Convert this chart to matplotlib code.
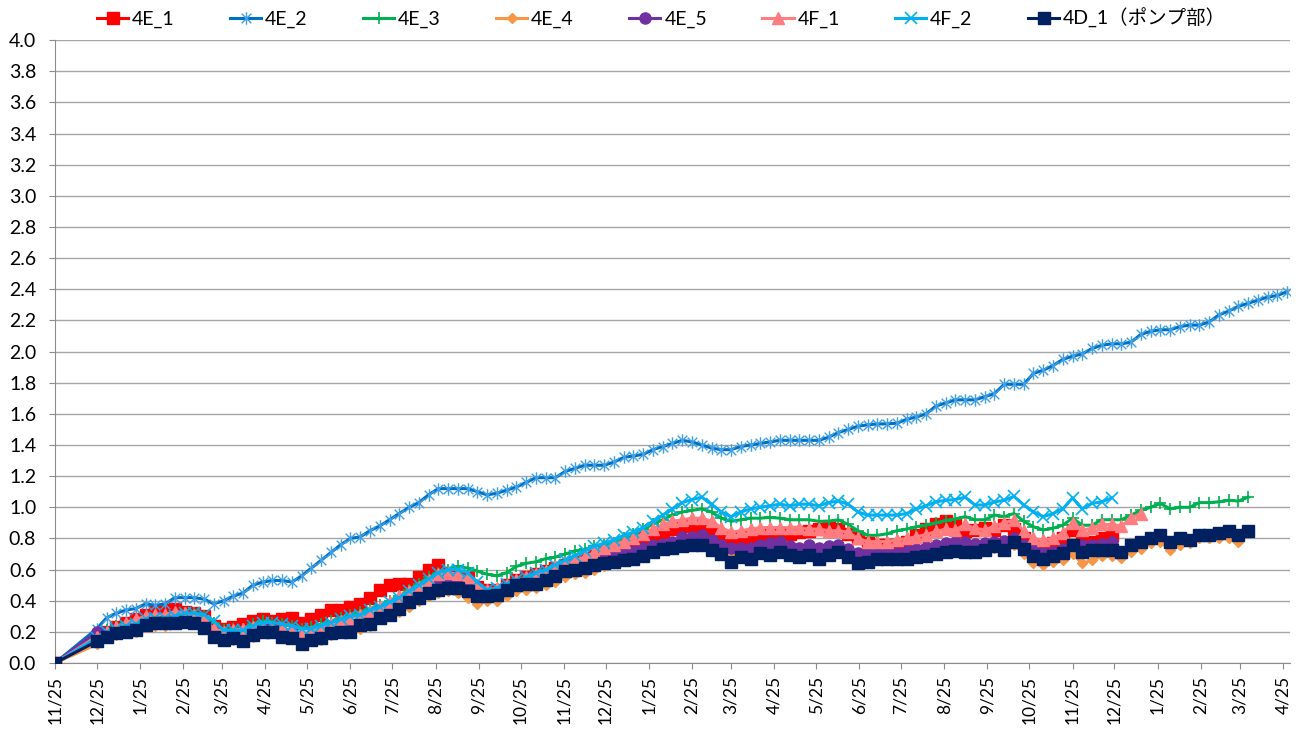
import matplotlib
matplotlib.use("Agg")
import matplotlib.pyplot as plt
from matplotlib.path import Path
import numpy as np
import pandas as pd

plt.rcParams['font.family'] = ['Lato', 'Noto Sans CJK JP', 'DejaVu Sans']

# x positions: start point, then weekly readings
start_date = "2012-11-25"
weekly_start = "2012-12-25"
n_weeks = 123

labels = ["4E_1", "4E_2", "4E_3", "4E_4", "4E_5", "4F_1", "4F_2", "4D_1（ポンプ部）"]

e1 = [0.0,
      0.17, 0.20, 0.23, 0.26, 0.28, 0.31, 0.33, 0.34, 0.35, 0.33,
      0.32, 0.30, 0.24, 0.22, 0.23, 0.25, 0.27, 0.28, 0.27, 0.28,
      0.29, 0.26, 0.28, 0.31, 0.34, 0.34, 0.36, 0.38, 0.42, 0.47,
      0.50, 0.51, 0.51, 0.55, 0.60, 0.63, 0.58, 0.56, 0.55, 0.49,
      0.47, 0.47, 0.50, 0.53, 0.55, 0.57, 0.59, 0.61, 0.63, 0.65,
      0.67, 0.69, 0.71, 0.73, 0.76, 0.78, 0.80, 0.82, 0.84, 0.86,
      0.88, 0.885, 0.88, 0.85, 0.81, 0.79, 0.80, 0.81, 0.82, 0.83,
      0.83, 0.83, 0.84, 0.85, 0.86, 0.88, 0.86, 0.83, 0.80, 0.77,
      0.76, 0.76, 0.76, 0.78, 0.82, 0.86, 0.89, 0.91, 0.89, 0.85,
      0.855, 0.865, 0.855, 0.885, 0.86, 0.80, 0.76, 0.745, 0.77, 0.80,
      0.855, 0.78, 0.78, 0.80, 0.82]

e2 = [0.0,
      0.22, 0.29, 0.32, 0.34, 0.35, 0.38, 0.37, 0.38, 0.42, 0.42,
      0.42, 0.41, 0.38, 0.40, 0.43, 0.45, 0.50, 0.52, 0.53, 0.53,
      0.52, 0.56, 0.61, 0.66, 0.71, 0.76, 0.80, 0.81, 0.85, 0.88,
      0.92, 0.96, 1.00, 1.03, 1.08, 1.12, 1.12, 1.12, 1.12, 1.10,
      1.08, 1.09, 1.11, 1.13, 1.16, 1.19, 1.19, 1.19, 1.23, 1.25,
      1.27, 1.27, 1.27, 1.29, 1.32, 1.33, 1.34, 1.37, 1.39, 1.41,
      1.43, 1.42, 1.40, 1.38, 1.37, 1.37, 1.39, 1.40, 1.41, 1.42,
      1.43, 1.43, 1.43, 1.43, 1.43, 1.45, 1.48, 1.50, 1.52, 1.53,
      1.535, 1.536, 1.54, 1.565, 1.58, 1.60, 1.65, 1.67, 1.69, 1.69,
      1.69, 1.71, 1.73, 1.79, 1.79, 1.79, 1.86, 1.88, 1.91, 1.95,
      1.97, 1.985, 2.02, 2.04, 2.05, 2.05, 2.06, 2.11, 2.13, 2.14,
      2.14, 2.16, 2.17, 2.17, 2.19, 2.235, 2.26, 2.29, 2.31, 2.33,
      2.35, 2.36, 2.385]

e3 = [0.0,
      0.18, 0.21, 0.24, 0.26, 0.27, 0.29, 0.30, 0.30, 0.31, 0.32,
      0.32, 0.30, 0.26, 0.21, 0.22, 0.22, 0.25, 0.27, 0.26, 0.25,
      0.24, 0.22, 0.23, 0.25, 0.27, 0.29, 0.31, 0.33, 0.35, 0.37,
      0.40, 0.43, 0.47, 0.51, 0.55, 0.58, 0.60, 0.62, 0.61, 0.59,
      0.57, 0.56, 0.58, 0.62, 0.64, 0.65, 0.67, 0.68, 0.70, 0.72,
      0.73, 0.75, 0.76, 0.77, 0.80, 0.83, 0.86, 0.89, 0.92, 0.95,
      0.97, 0.98, 0.99, 0.97, 0.93, 0.91, 0.92, 0.93, 0.93, 0.935,
      0.93, 0.92, 0.92, 0.92, 0.91, 0.91, 0.92, 0.89, 0.85, 0.82,
      0.82, 0.83, 0.85, 0.86, 0.875, 0.885, 0.90, 0.915, 0.925, 0.94,
      0.92, 0.92, 0.95, 0.94, 0.96, 0.91, 0.875, 0.855, 0.865, 0.885,
      0.93, 0.885, 0.885, 0.92, 0.92, 0.92, 0.95, 0.98, 1.00, 1.025,
      0.99, 1.00, 1.00, 1.03, 1.03, 1.035, 1.045, 1.04, 1.065]

e4 = [0.0,
      0.12, 0.16, 0.18, 0.19, 0.20, 0.23, 0.24, 0.24, 0.25, 0.26,
      0.25, 0.22, 0.17, 0.15, 0.15, 0.14, 0.17, 0.19, 0.19, 0.17,
      0.16, 0.12, 0.14, 0.15, 0.18, 0.19, 0.19, 0.22, 0.24, 0.28,
      0.30, 0.33, 0.36, 0.40, 0.43, 0.45, 0.46, 0.45, 0.42, 0.38,
      0.40, 0.40, 0.43, 0.46, 0.47, 0.48, 0.50, 0.52, 0.55, 0.57,
      0.58, 0.60, 0.62, 0.64, 0.66, 0.68, 0.69, 0.71, 0.73, 0.75,
      0.76, 0.77, 0.78, 0.73, 0.70, 0.69, 0.68, 0.68, 0.71, 0.70,
      0.72, 0.70, 0.69, 0.70, 0.67, 0.70, 0.72, 0.68, 0.65, 0.66,
      0.67, 0.67, 0.67, 0.67, 0.68, 0.69, 0.70, 0.71, 0.72, 0.715,
      0.715, 0.72, 0.74, 0.72, 0.76, 0.70, 0.64, 0.63, 0.65, 0.66,
      0.70, 0.64, 0.66, 0.685, 0.685, 0.675, 0.715, 0.735, 0.77, 0.78,
      0.725, 0.76, 0.77, 0.80, 0.80, 0.80, 0.80, 0.78]

e5 = [0.0,
      0.20, 0.20, 0.22, 0.23, 0.24, 0.27, 0.28, 0.28, 0.29, 0.29,
      0.28, 0.26, 0.20, 0.18, 0.18, 0.17, 0.20, 0.22, 0.22, 0.20,
      0.20, 0.17, 0.18, 0.19, 0.22, 0.23, 0.24, 0.26, 0.28, 0.31,
      0.34, 0.37, 0.41, 0.44, 0.47, 0.50, 0.52, 0.52, 0.50, 0.46,
      0.44, 0.45, 0.48, 0.50, 0.52, 0.54, 0.56, 0.58, 0.60, 0.62,
      0.63, 0.65, 0.67, 0.69, 0.70, 0.72, 0.74, 0.755, 0.765, 0.78,
      0.81, 0.81, 0.82, 0.79, 0.755, 0.74, 0.74, 0.74, 0.755, 0.77,
      0.78, 0.75, 0.74, 0.755, 0.74, 0.75, 0.755, 0.73, 0.705, 0.705,
      0.705, 0.71, 0.705, 0.72, 0.735, 0.745, 0.76, 0.77, 0.775, 0.775,
      0.765, 0.77, 0.775, 0.785, 0.80, 0.76, 0.725, 0.705, 0.715, 0.735,
      0.76, 0.755, 0.76, 0.765, 0.775]

f1 = [0.0,
      0.17, 0.20, 0.23, 0.26, 0.28, 0.30, 0.31, 0.31, 0.33, 0.32,
      0.31, 0.28, 0.22, 0.20, 0.21, 0.22, 0.23, 0.23, 0.22, 0.22,
      0.21, 0.18, 0.20, 0.22, 0.25, 0.27, 0.29, 0.31, 0.33, 0.36,
      0.39, 0.43, 0.46, 0.49, 0.53, 0.57, 0.58, 0.57, 0.55, 0.50,
      0.47, 0.48, 0.50, 0.53, 0.55, 0.57, 0.59, 0.62, 0.64, 0.66,
      0.68, 0.71, 0.74, 0.76, 0.78, 0.80, 0.83, 0.86, 0.89, 0.91,
      0.92, 0.93, 0.93, 0.91, 0.87, 0.84, 0.85, 0.86, 0.87, 0.87,
      0.87, 0.87, 0.87, 0.86, 0.86, 0.85, 0.85, 0.84, 0.80, 0.78,
      0.78, 0.78, 0.79, 0.80, 0.81, 0.825, 0.845, 0.86, 0.855, 0.89,
      0.865, 0.855, 0.88, 0.90, 0.92, 0.845, 0.80, 0.79, 0.80, 0.835,
      0.90, 0.855, 0.865, 0.89, 0.89, 0.88, 0.93, 0.96]

f2 = [0.0,
      0.16, 0.20, 0.22, 0.24, 0.25, 0.28, 0.29, 0.29, 0.30, 0.32,
      0.32, 0.31, 0.27, 0.21, 0.21, 0.21, 0.24, 0.26, 0.26, 0.25,
      0.24, 0.22, 0.22, 0.24, 0.26, 0.28, 0.30, 0.31, 0.34, 0.36,
      0.39, 0.42, 0.46, 0.50, 0.54, 0.58, 0.60, 0.60, 0.58, 0.52,
      0.47, 0.48, 0.51, 0.53, 0.55, 0.58, 0.60, 0.63, 0.66, 0.69,
      0.72, 0.75, 0.77, 0.79, 0.82, 0.84, 0.87, 0.91, 0.95, 0.99,
      1.03, 1.05, 1.065, 1.02, 0.97, 0.94, 0.97, 0.99, 1.00, 1.01,
      1.02, 1.01, 1.02, 1.02, 1.01, 1.03, 1.04, 1.02, 0.97, 0.95,
      0.95, 0.95, 0.95, 0.96, 0.99, 1.01, 1.035, 1.045, 1.05, 1.065,
      1.015, 1.015, 1.035, 1.045, 1.07, 1.015, 0.97, 0.94, 0.96, 0.99,
      1.06, 0.99, 1.025, 1.035, 1.06]

d1 = [0.0,
      0.14, 0.17, 0.19, 0.20, 0.21, 0.245, 0.255, 0.255, 0.255, 0.265,
      0.255, 0.225, 0.17, 0.15, 0.16, 0.14, 0.18, 0.20, 0.20, 0.17,
      0.16, 0.12, 0.15, 0.16, 0.19, 0.20, 0.20, 0.245, 0.25, 0.29,
      0.31, 0.35, 0.39, 0.42, 0.45, 0.47, 0.48, 0.48, 0.46, 0.43,
      0.43, 0.44, 0.47, 0.50, 0.51, 0.51, 0.53, 0.56, 0.59, 0.60,
      0.61, 0.63, 0.64, 0.65, 0.66, 0.67, 0.69, 0.71, 0.73, 0.74,
      0.75, 0.76, 0.76, 0.725, 0.70, 0.65, 0.68, 0.67, 0.705, 0.695,
      0.715, 0.695, 0.68, 0.695, 0.665, 0.695, 0.715, 0.68, 0.64, 0.65,
      0.665, 0.665, 0.665, 0.67, 0.68, 0.69, 0.70, 0.71, 0.72, 0.715,
      0.715, 0.725, 0.75, 0.725, 0.775, 0.73, 0.69, 0.665, 0.685, 0.705,
      0.76, 0.715, 0.725, 0.725, 0.725, 0.715, 0.76, 0.78, 0.80, 0.82,
      0.78, 0.80, 0.79, 0.82, 0.82, 0.835, 0.845, 0.82, 0.85]

series = [e1, e2, e3, e4, e5, f1, f2, d1]

dates = [pd.Timestamp(start_date)] + list(pd.date_range(weekly_start, periods=n_weeks, freq="7D"))

# Excel style asterisk marker (x with a vertical bar)
star = Path([(-1, -1), (1, 1), (-1, 1), (1, -1), (0, -1.3), (0, 1.3)],
            [Path.MOVETO, Path.LINETO, Path.MOVETO, Path.LINETO, Path.MOVETO, Path.LINETO])

colors = ['#FF0000', '#0070C0', '#00B050', '#F79646', '#7030A0', '#FF7C80', '#00B0F0', '#002060']
styles = [
    dict(marker='s', ms=8),
    dict(marker=star, ms=9, mew=1.0, mec='#3FA0E8'),
    dict(marker='+', ms=8, mew=1.2),
    dict(marker='D', ms=5),
    dict(marker='o', ms=8),
    dict(marker='^', ms=9),
    dict(marker='x', ms=8, mew=1.2),
    dict(marker='s', ms=8),
]

fig = plt.figure(figsize=(13.03, 7.29), dpi=100)
ax = fig.add_axes([0.0422, 0.0905, 0.9478, 0.8545])

for i, vals in enumerate(series):
    st = dict(styles[i])
    st.setdefault('mec', colors[i])
    ax.plot(dates[:len(vals)], vals, color=colors[i], lw=2.2, mfc=colors[i],
            label=labels[i], zorder=3 + i, **st)

ax.set_ylim(0, 4.0)
ax.set_yticks(np.arange(0, 4.01, 0.2))
ax.yaxis.set_major_formatter(plt.FuncFormatter(lambda v, p: f"{v:.1f}"))
ax.set_xlim(pd.Timestamp("2012-11-25"), pd.Timestamp("2015-04-30"))

month_ticks = pd.date_range("2012-11-01", "2015-04-01", freq="MS") + pd.Timedelta(days=24)
ax.set_xticks(month_ticks)
ax.set_xticklabels([f"{d.month}/{d.day}" for d in month_ticks], rotation=90)

ax.grid(axis='y', color='#A6A6A6', lw=1.0)
ax.set_axisbelow(True)
for s in ['top', 'right']:
    ax.spines[s].set_visible(False)
for s in ['left', 'bottom']:
    ax.spines[s].set_color('#8C8C8C')
ax.tick_params(axis='both', color='#8C8C8C', length=4.5, labelcolor='black')
ax.tick_params(axis='y', labelsize=14, pad=9)
ax.tick_params(axis='x', labelsize=12.5, pad=5)

fig.legend(loc='center left', bbox_to_anchor=(97 / 1303, 0.975), ncol=8, frameon=False,
           fontsize=14, handlelength=1.6, handletextpad=0.2, columnspacing=2.85,
           borderaxespad=0, borderpad=0)

fig.savefig("out.png", dpi=100)
